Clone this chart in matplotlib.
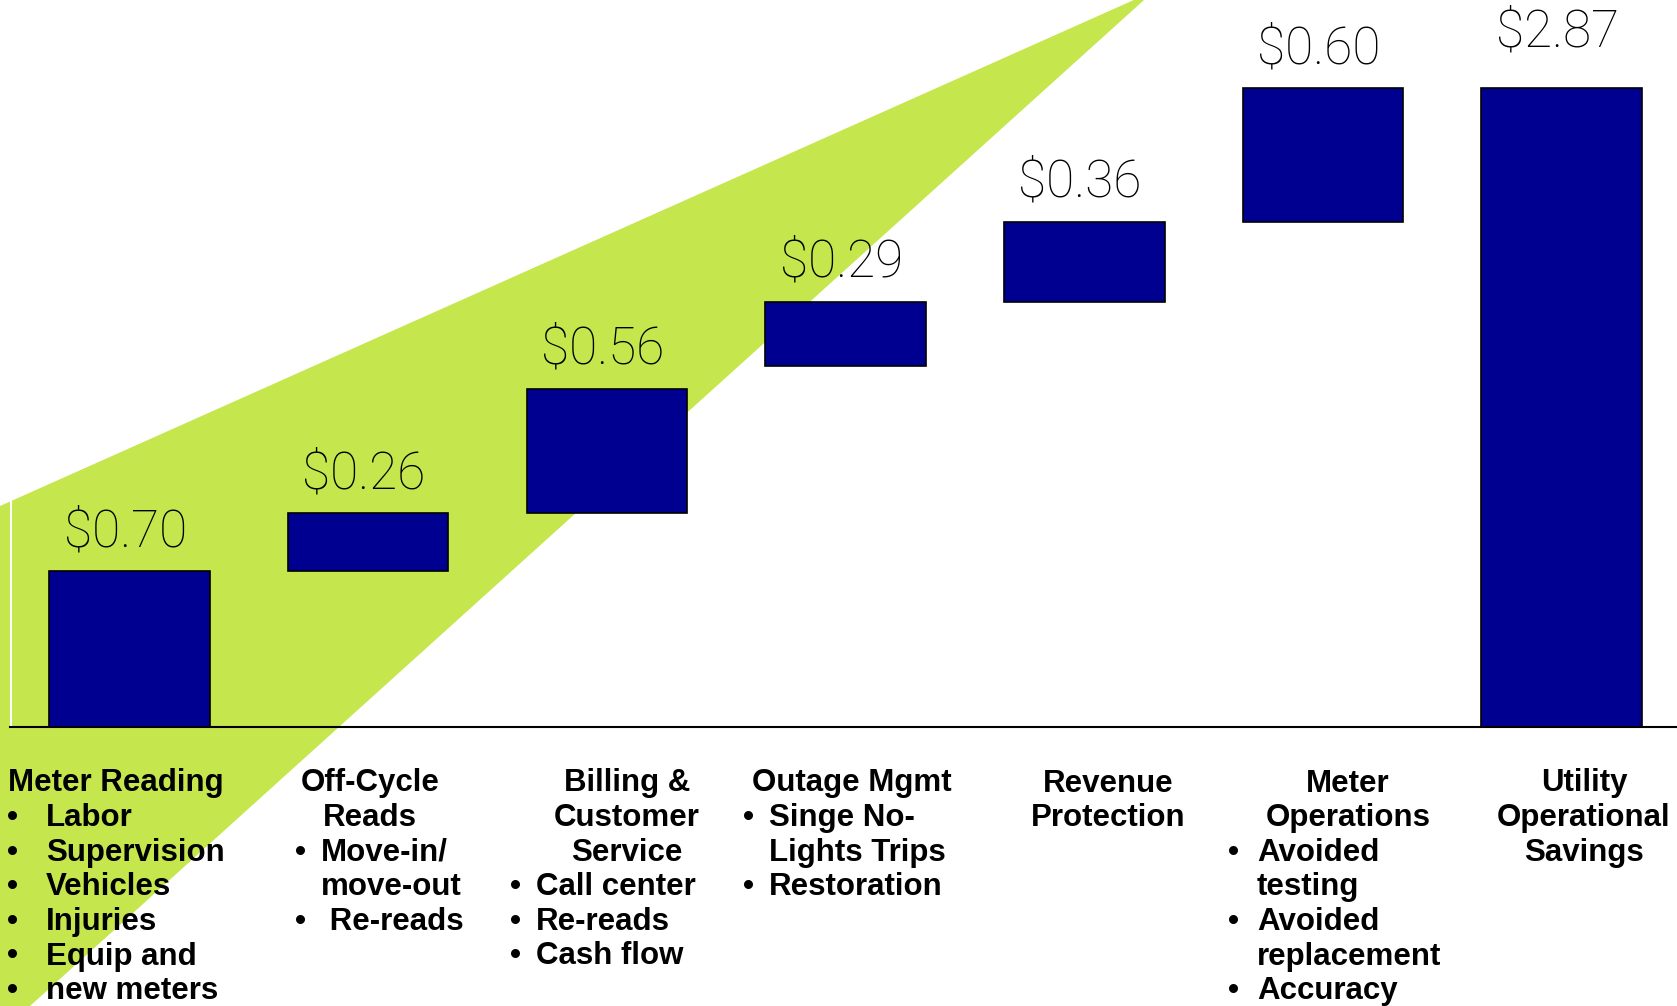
import matplotlib.pyplot as plt
from matplotlib.patches import Polygon

# waterfall of operational savings ($ per meter per year)
values = [0.70, 0.26, 0.56, 0.29, 0.36, 0.60, 2.87]
bottoms = [0.0, 0.70, 0.96, 1.62, 1.91, 2.27, 0.0]
value_labels = ['$0.70', '$0.26', '$0.56', '$0.29', '$0.36', '$0.60', '$2.87']

headers = [
    ['Meter Reading'],
    ['Off-Cycle', 'Reads'],
    ['Billing &', 'Customer', 'Service'],
    ['Outage Mgmt'],
    ['Revenue', 'Protection'],
    ['Meter', 'Operations'],
    ['Utility', 'Operational', 'Savings'],
]
bullets = [
    [['Labor'], ['Supervision'], ['Vehicles'], ['Injuries'], ['Equip and'], ['new meters']],
    [['Move-in/', 'move-out'], [' Re-reads']],
    [['Call center'], ['Re-reads'], ['Cash flow']],
    [['Singe No-', 'Lights Trips'], ['Restoration']],
    [],
    [['Avoided', 'testing'], ['Avoided', 'replacement'], ['Accuracy']],
    [],
]

W, H = 1677, 1006
fig = plt.figure(figsize=(W / 100, H / 100), dpi=100)
ax = fig.add_axes([0, 0, 1, 1])
ax.set_xlim(-0.542, 6.483)
ax.set_ylim(-1.254, 3.267)
ax.axis('off')

def fx(px):
    return px / W

def fy(py):
    return 1 - py / H

# green wedge in the background
wedge = Polygon([(0, 0), (fx(30), 0), (fx(1154), fy(-9)), (0, fy(506))],
                closed=True, transform=ax.transAxes, facecolor='#c5e64c',
                edgecolor='none', zorder=0)
ax.add_patch(wedge)
ax.plot([fx(11), fx(11)], [fy(727), 1], color='white', lw=1.5,
        transform=ax.transAxes, zorder=1)

x = list(range(len(values)))
ax.bar(x, values, bottom=bottoms, width=0.6726, color='#000090',
       edgecolor='black', linewidth=1.2, zorder=3)
ax.axhline(0, xmin=fx(10), xmax=1, color='black', lw=1.5, zorder=4)

for i, lab in enumerate(value_labels):
    off = 30 if i == len(values) - 1 else 18
    ax.annotate(lab, (i, bottoms[i] + values[i]), xytext=(-3, off),
                textcoords='offset points', ha='center', va='baseline',
                fontsize=37, family='Roboto', fontweight='light', color='black')

# category text below the axis
header_x = [(8, 'left'), (370, 'center'), (627, 'center'), (752, 'left'),
            (1108, 'center'), (1348, 'center'), (1584, 'center')]
bullet_x = [(7, 46), (295, 321), (510, 536), (743, 769), None, (1228, 1257), None]
row0 = 791.5
pitch = 34.6
tkw = dict(fontsize=22.5, family='Liberation Sans', fontweight='bold',
           color='black', va='baseline', transform=ax.transAxes)

for c in range(len(headers)):
    hx, ha = header_x[c]
    row = 0
    for line in headers[c]:
        ax.text(fx(hx), fy(row0 + row * pitch), line, ha=ha, **tkw)
        row += 1
    for item in bullets[c]:
        bx, tx = bullet_x[c]
        ax.text(fx(bx), fy(row0 + row * pitch), '\u2022', ha='left', **tkw)
        for line in item:
            ax.text(fx(tx), fy(row0 + row * pitch), line, ha='left', **tkw)
            row += 1

fig.savefig('out.png', dpi=100)
